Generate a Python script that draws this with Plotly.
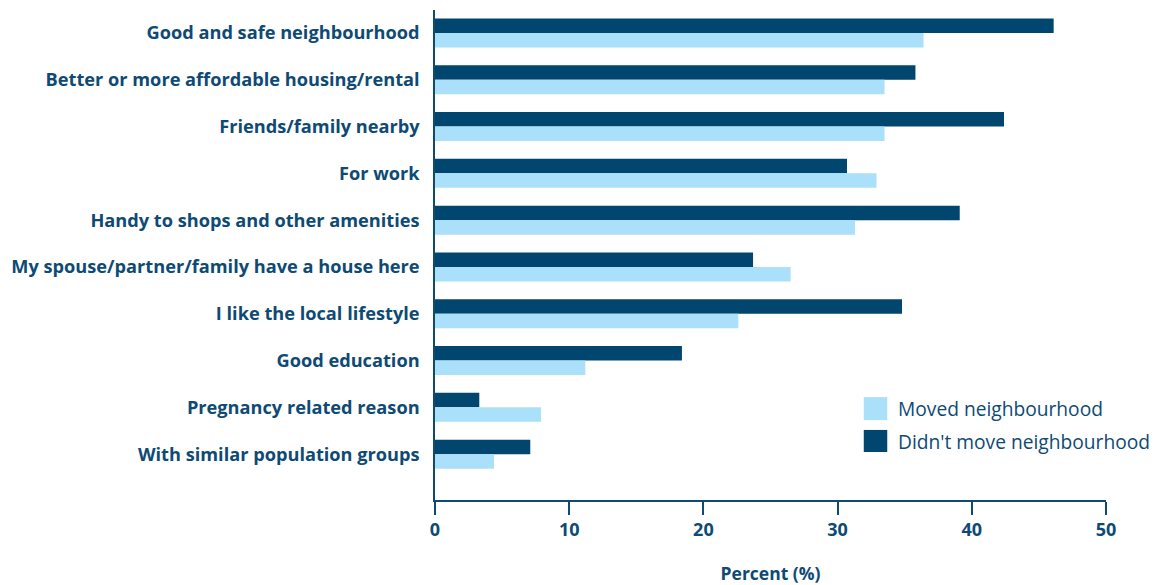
import plotly.graph_objects as go

categories = [
    "Good and safe neighbourhood",
    "Better or more affordable housing/rental",
    "Friends/family nearby",
    "For work",
    "Handy to shops and other amenities",
    "My spouse/partner/family have a house here",
    "I like the local lifestyle",
    "Good education",
    "Pregnancy related reason",
    "With similar population groups",
]
didnt_move = [46.1, 35.8, 42.4, 30.7, 39.1, 23.7, 34.8, 18.4, 3.3, 7.1]
moved = [36.4, 33.5, 33.5, 32.9, 31.3, 26.5, 22.6, 11.2, 7.9, 4.4]

series_names = ["Didn't move neighbourhood", "Moved neighbourhood"]
DARK = "#00466f"
LIGHT = "#aae0f9"
TEXT = "#0e4a74"
FONT = "Open Sans"

fig = go.Figure()
fig.add_trace(go.Bar(y=categories, x=didnt_move, orientation="h", name=series_names[0],
                     marker=dict(color=DARK, line=dict(width=0)), showlegend=False))
fig.add_trace(go.Bar(y=categories, x=moved, orientation="h", name=series_names[1],
                     marker=dict(color=LIGHT, line=dict(width=0)), showlegend=False))

# custom legend (larger swatches)
legend_items = [(series_names[1], LIGHT, 0.210, 0.163, 0.186),
                (series_names[0], DARK, 0.143, 0.098, 0.120)]
for name, col, y1, y0, yc in legend_items:
    fig.add_shape(type="rect", xref="paper", yref="paper", x0=0.639, x1=0.674, y0=y0, y1=y1,
                  fillcolor=col, line=dict(width=0))
    fig.add_annotation(xref="paper", yref="paper", x=0.687, y=yc, text=name, showarrow=False,
                       xanchor="left", yanchor="middle",
                       font=dict(family=FONT, size=19.2, color=TEXT))

fig.update_layout(
    width=1149, height=577,
    margin=dict(l=427, r=51, t=2, b=85),
    barmode="group", bargap=0.38, bargroupgap=0,
    plot_bgcolor="white", paper_bgcolor="white",
    font=dict(family=FONT, color=TEXT),
)
fig.update_xaxes(
    range=[0, 50], dtick=10, tick0=0, automargin=False,
    showgrid=False, zeroline=False,
    showline=True, linecolor=TEXT, linewidth=1.5,
    ticks="outside", ticklen=13, tickwidth=1.5, tickcolor=TEXT,
    tickfont=dict(family=FONT, size=18, color=TEXT, weight="bold"),
    title=dict(text="Percent (%)", standoff=27,
               font=dict(family=FONT, size=17.5, color=TEXT, weight="bold")),
)
fig.update_yaxes(
    range=[9.98, -0.49], automargin=False,
    showgrid=False, zeroline=False,
    showline=True, linecolor=TEXT, linewidth=1.5,
    ticks="", ticklabelstandoff=10,
    tickfont=dict(family=FONT, size=18.2, color=TEXT, weight="bold"),
)

fig.write_html("out.html")
